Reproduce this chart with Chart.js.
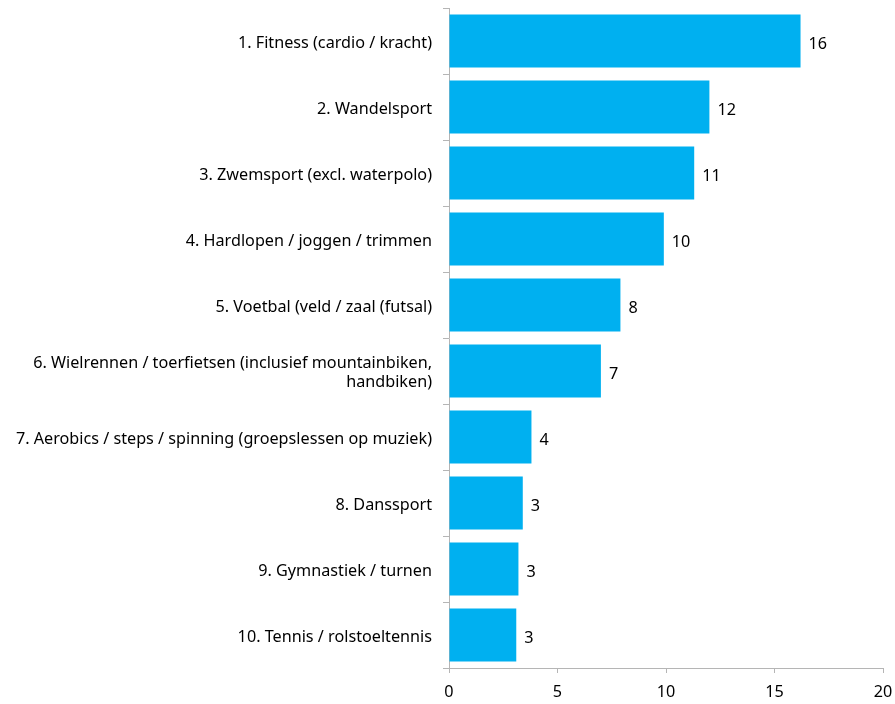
<!DOCTYPE html>
<html>
<head>
<meta charset="utf-8">
<script src="https://cdn.jsdelivr.net/npm/chart.js@4/dist/chart.umd.min.js"></script>
<style>
  html, body { margin: 0; padding: 0; background: #fff; }
  #wrap { width: 895px; height: 704px; position: relative; }
</style>
</head>
<body>
<div id="wrap"><canvas id="sportChart"></canvas></div>
<script>
const categories = [
  '1. Fitness (cardio / kracht)',
  '2. Wandelsport',
  '3. Zwemsport (excl. waterpolo)',
  '4. Hardlopen / joggen / trimmen',
  '5. Voetbal (veld / zaal (futsal)',
  ['6. Wielrennen / toerfietsen (inclusief mountainbiken,', 'handbiken)'],
  '7. Aerobics / steps / spinning (groepslessen op muziek)',
  '8. Danssport',
  '9. Gymnastiek / turnen',
  '10. Tennis / rolstoeltennis'
];
const values = [16.2, 12.0, 11.3, 9.9, 7.9, 7.0, 3.8, 3.4, 3.2, 3.1];
const xTicks = [0, 5, 10, 15, 20];

const FONT = "'Noto Sans', sans-serif";
const FONT_SIZE = 16.2;
const AXIS_GREY = '#b5b5b5';

const valueLabels = {
  id: 'valueLabels',
  afterDatasetsDraw(chart) {
    const ctx = chart.ctx;
    const meta = chart.getDatasetMeta(0);
    ctx.save();
    ctx.font = FONT_SIZE + 'px ' + FONT;
    ctx.fillStyle = '#000';
    ctx.textBaseline = 'middle';
    ctx.textAlign = 'left';
    meta.data.forEach(function (bar, i) {
      ctx.fillText(Math.round(values[i]), bar.x + 8, bar.y + 3);
    });
    ctx.restore();
  }
};

new Chart(document.getElementById('sportChart'), {
  type: 'bar',
  data: {
    labels: categories,
    datasets: [{
      data: values,
      backgroundColor: '#00b0f0',
      borderWidth: 0,
      barPercentage: 0.8,
      categoryPercentage: 1.0
    }]
  },
  options: {
    indexAxis: 'y',
    responsive: true,
    maintainAspectRatio: false,
    animation: false,
    layout: { padding: { top: 8, right: 12, left: 0, bottom: 0 } },
    plugins: {
      legend: { display: false },
      tooltip: { enabled: false }
    },
    scales: {
      x: {
        min: 0,
        max: 20,
        afterBuildTicks: function (scale) {
          scale.ticks = xTicks.map(function (v) { return { value: v }; });
        },
        afterFit: function (scale) {
          scale.height = 36;
          scale.paddingLeft = 0;
          scale.paddingRight = 0;
        },
        grid: {
          drawOnChartArea: false,
          drawTicks: true,
          tickLength: 5,
          color: AXIS_GREY
        },
        border: { color: AXIS_GREY, width: 1 },
        ticks: {
          padding: 10,
          color: '#000',
          font: { family: FONT, size: FONT_SIZE }
        }
      },
      y: {
        afterFit: function (scale) {
          scale.width = 449;
          scale.paddingTop = 0;
          scale.paddingBottom = 0;
        },
        grid: {
          drawOnChartArea: false,
          drawTicks: true,
          tickLength: 6,
          color: AXIS_GREY
        },
        border: { color: AXIS_GREY, width: 1 },
        ticks: {
          padding: 11,
          labelOffset: 2,
          color: '#000',
          font: { family: FONT, size: FONT_SIZE }
        }
      }
    }
  },
  plugins: [valueLabels]
});
</script>
</body>
</html>
